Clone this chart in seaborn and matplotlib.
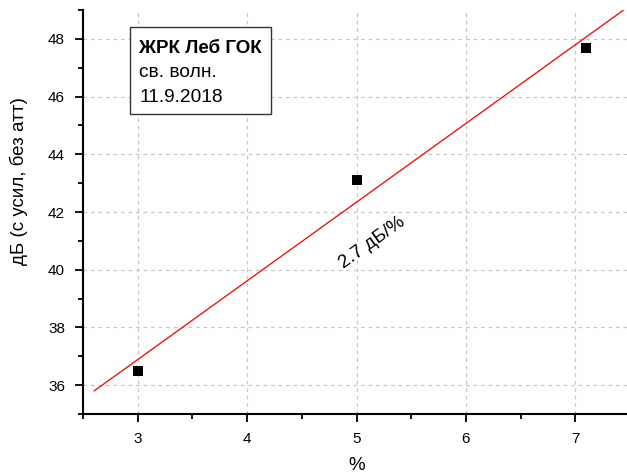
import numpy as np
import pandas as pd
import seaborn as sns
import matplotlib.pyplot as plt
from matplotlib.patches import Rectangle
from matplotlib.ticker import MultipleLocator

percent = [3.0, 5.0, 7.1]
db = [36.5, 43.1, 47.7]
fit_x = [2.6, 7.45]
slope, intercept = np.polyfit(percent, db, 1)
fit_y = [slope * x + intercept for x in fit_x]

sns.set_style("white")
plt.rcParams["font.family"] = ["Liberation Sans", "DejaVu Sans"]
plt.rcParams["text.color"] = "black"
plt.rcParams["axes.labelcolor"] = "black"
plt.rcParams["xtick.color"] = "black"
plt.rcParams["ytick.color"] = "black"

df = pd.DataFrame({"x": percent, "y": db})
fit_df = pd.DataFrame({"x": fit_x, "y": fit_y})

fig = plt.figure(figsize=(6.27, 4.75), dpi=100)
ax = fig.add_axes([0.1324, 0.1284, 0.8724, 0.8505])

sns.lineplot(data=fit_df, x="x", y="y", color="red", linewidth=0.9, ax=ax, zorder=3)
sns.scatterplot(data=df, x="x", y="y", marker="s", s=55, color="black",
                edgecolor="black", linewidth=0, ax=ax, zorder=4)

ax.set_xlim(2.5, 7.5)
ax.set_ylim(35, 49)
ax.xaxis.set_major_locator(MultipleLocator(1))
ax.xaxis.set_minor_locator(MultipleLocator(0.5))
ax.yaxis.set_major_locator(MultipleLocator(2))
ax.yaxis.set_minor_locator(MultipleLocator(1))
ax.grid(True, which="major", linestyle=(0, (3, 3)), color="#c8c8c8", linewidth=0.9)
ax.tick_params(which="major", direction="out", length=6, width=1.3, labelsize=11,
               bottom=True, left=True, pad=7)
ax.tick_params(which="minor", direction="out", length=3.5, width=1.3, bottom=True, left=True)
for side in ["top", "right"]:
    ax.spines[side].set_visible(False)
for side in ["left", "bottom"]:
    ax.spines[side].set_linewidth(1.5)
    ax.spines[side].set_color("black")

ax.set_xlabel("%", fontsize=13.5, labelpad=8)
ax.set_ylabel("дБ (с усил, без атт)", fontsize=13.5)
ax.yaxis.set_label_coords(-0.1, 0.577)

# label box
ax.add_patch(Rectangle((0.0859, 0.7426), 0.2578, 0.2154, transform=ax.transAxes,
                       facecolor="white", edgecolor="#333333", linewidth=1, zorder=5))
ax.text(0.1024, 0.893, "ЖРК Леб ГОК", transform=ax.transAxes, fontsize=13.5,
        fontweight="bold", va="baseline", zorder=6)
ax.text(0.1024, 0.835, "св. волн.", transform=ax.transAxes, fontsize=13.8,
        va="baseline", zorder=6)
ax.text(0.1024, 0.773, "11.9.2018", transform=ax.transAxes, fontsize=13.8,
        va="baseline", zorder=6)

ax.text(5.14, 40.95, "2.7 дБ/%", fontsize=13.5, rotation=35.7,
        ha="center", va="center", rotation_mode="anchor")

fig.savefig("out.png", dpi=100)
